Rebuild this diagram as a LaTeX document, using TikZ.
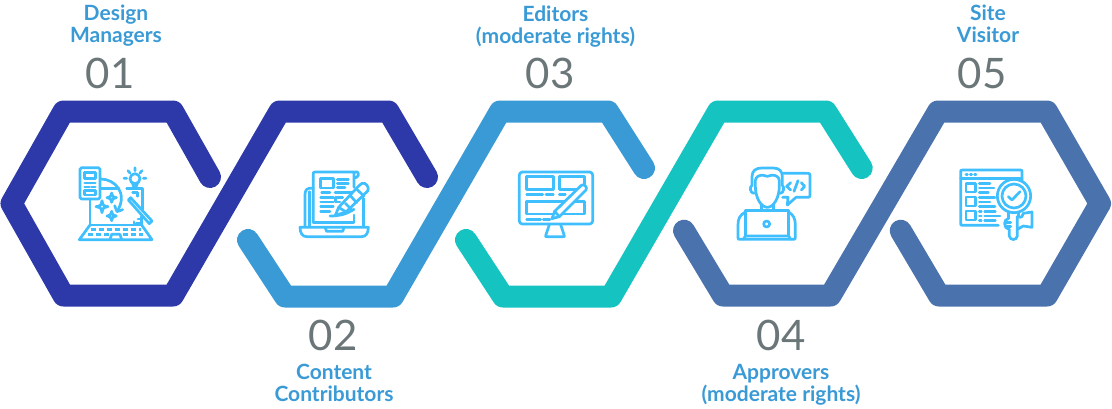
\documentclass[tikz,border=0pt]{standalone}
\usepackage{fontspec}
\setmainfont{Lato}
\definecolor{cdark}{HTML}{2D39A9}
\definecolor{cblue}{HTML}{3A9AD5}
\definecolor{cteal}{HTML}{15C3C1}
\definecolor{csteel}{HTML}{4A72AC}
\definecolor{cicon}{HTML}{40BFFF}
\definecolor{cnum}{HTML}{6B7678}
\tikzset{
  ribbon/.style={line width=22pt,line cap=round,line join=round},
  lab/.style={text=cblue,font=\fontsize{21}{22}\selectfont\bfseries,align=center,inner sep=0pt},
  num/.style={text=cnum,font=\fontsize{42}{42}\selectfont,inner sep=0pt},
  ico/.style={draw=cicon,line width=2.7pt,line cap=round,line join=round},
  icf/.style={x=.3333pt,y=-.3333pt},
}
\begin{document}
\begin{tikzpicture}[x=1pt,y=-1pt]
\useasboundingbox (0,0) rectangle (1112,408);
% ribbons
\draw[ribbon,cdark] (210,177) -- (173,111.5) -- (63.5,111.5) -- (11.5,203.5) -- (63.5,295.5) -- (173,295.5) -- (279.5,111.5) -- (388.5,111.5) -- (427,177);
\draw[ribbon,cblue] (248,240) -- (285,296.5) -- (393,296.5) -- (500,111.5) -- (608,111.5) -- (644,168);
\draw[ribbon,cteal] (466,240) -- (503,296.5) -- (611,296.5) -- (718,111.5) -- (826,111.5) -- (861.7,168);
\draw[ribbon,csteel] (684,230.7) -- (723,295.5) -- (830.5,295.5) -- (938,111.5) -- (1047,111.5) -- (1100,203.5) -- (1047,295.5) -- (939,295.5) -- (900.7,230.7);
% texts
\node[lab] (t1) at (116,26) {Design\\Managers};
\node[num] (n1) at (110,73) {01};
\node[lab] (t2) at (334,383) {Content\\Contributors};
\node[num] (n2) at (333,335) {02};
\node[lab] (t3) at (555.5,26.5) {Editors\\(moderate rights)};
\node[num] (n3) at (550,73) {03};
\node[lab] (t4) at (781,385) {Approvers\\(moderate rights)};
\node[num] (n4) at (781,335) {04};
\node[lab] (t5) at (988,24) {Site\\Visitor};
\node[num] (n5) at (982,73) {05};
% icon 1
\begin{scope}[shift={(60,155)},icf]
\draw[ico,rounded corners=1.5pt] (60,38) rectangle (120,132);
\draw[ico] (74,52) rectangle (106,70);
\draw[ico] (74,84) -- (106,84) (74,96) -- (88,96) (94,96) -- (106,96);
\draw[ico] (74,107) rectangle (106,120);
\draw[ico] (122,72) .. controls (165,72) and (205,115) .. (172,168);
\draw[ico] (164,152) -- (171,170) -- (188,164);
\draw[ico] (90,132) -- (90,210) -- (245,210) -- (245,185);
\draw[ico] (122,100) -- (176,100);
\draw[ico] (200,100) -- (248,100) -- (248,165);
\draw[ico] (90,210) -- (58,254) -- (276,254) -- (245,210);
\draw[ico,dash pattern=on 5pt off 3pt,line cap=butt] (92,224) -- (242,224) (85,238) -- (146,238) (188,238) -- (250,238);
\draw[ico] (150,254) -- (155,238) -- (180,238) -- (185,254);
\foreach \cx/\cy/\r in {155/128/14,126/155/18,155/183/14}
  \draw[ico] (\cx-\r,\cy) .. controls (\cx-3,\cy-3) .. (\cx,\cy-\r) .. controls (\cx+3,\cy-3) .. (\cx+\r,\cy) .. controls (\cx+3,\cy+3) .. (\cx,\cy+\r) .. controls (\cx-3,\cy+3) .. cycle;
\draw[ico] (205,135) -- (212,128) -- (276,198) -- (268,206) -- cycle;
\draw[ico] (225,71) circle (15);
\draw[ico] (218,86) -- (232,86) -- (227,98) -- (222,98) -- cycle;
\draw[ico] (225,38) -- (225,47) (204,47) -- (210,54) (246,47) -- (240,54) (192,70) -- (200,70) (250,70) -- (258,70);
\draw[ico] (218,112) -- (232,112) -- (232,124) (228,205) -- (240,205) (234,192) -- (240,192) (222,200) -- (222,205);
\end{scope}
% icon 2
\begin{scope}[shift={(280,150)},icf]
\draw[ico] (100,115) .. controls (78,112) and (75,122) .. (75,135) -- (75,230);
\draw[ico] (250,145) -- (250,230);
\draw[ico] (88,125) -- (88,230);
\draw[ico] (60,232) -- (265,232) .. controls (265,250) and (258,260) .. (245,260) -- (80,260) .. controls (68,260) and (60,250) .. (60,232) -- cycle;
\draw[ico] (135,232) -- (140,244) -- (188,244) -- (192,232);
\draw[ico] (100,218) -- (100,72) .. controls (100,66) .. (106,66) -- (232,66) .. controls (238,70) and (236,84) .. (222,84) (222,66) -- (222,112);
\draw[ico] (100,218) -- (222,218) -- (222,195);
\draw[ico] (122,86) rectangle (160,114);
\draw[ico] (172,88) -- (205,88) (172,100) -- (205,100) (172,112) -- (195,112);
\draw[ico] (125,128) -- (150,128) (165,128) -- (215,128) (122,142) -- (160,142) (122,156) -- (160,156) (122,170) -- (160,170) (122,184) -- (150,184);
\draw[ico] (166,142) -- (166,156) -- (180,156) (166,142) -- (188,142);
\draw[ico] (166,196) -- (176,172) -- (236,108) -- (246,100) .. controls (258,96) and (268,112) .. (264,122) -- (198,186) -- cycle;
\draw[ico] (228,116) -- (252,138);
\draw[ico] (176,172) -- (198,186) (196,160) -- (214,178) (212,138) -- (230,158);
\draw[ico] (150,198) .. controls (175,198) and (195,195) .. (222,178);
\end{scope}
% icon 3
\begin{scope}[shift={(500,150)},icf]
\draw[ico,rounded corners=3pt] (58,66) rectangle (278,222);
\draw[ico] (80,80) rectangle (160,118);
\draw[ico] (178,80) rectangle (254,118);
\draw[ico] (80,155) rectangle (254,192);
\draw[ico] (80,134) -- (128,134) (138,134) -- (160,134) (178,134) -- (196,134);
\draw[ico] (80,208) -- (122,208) (130,208) -- (150,208);
\fill[white] (156,206) -- (164,184) -- (244,106) .. controls (252,100) and (264,112) .. (258,120) -- (178,200) -- cycle;
\draw[ico] (156,206) -- (164,184) -- (244,106) .. controls (252,100) and (264,112) .. (258,120) -- (178,200) -- cycle;
\draw[ico] (164,184) -- (178,200);
\draw[ico] (148,224) -- (138,254) .. controls (136,260) .. (142,260) -- (188,260) .. controls (194,260) .. (192,254) -- (182,224);
\end{scope}
% icon 4
\begin{scope}[shift={(720,150)},icf]
\draw[ico] (102,130) .. controls (90,130) and (88,110) .. (96,106) -- (96,80) .. controls (96,62) and (108,54) .. (125,54) -- (160,54) .. controls (178,54) and (187,64) .. (187,80) -- (187,106) .. controls (194,110) and (192,130) .. (180,130);
\draw[ico] (106,108) -- (106,92) .. controls (106,80) and (120,74) .. (130,76) .. controls (138,80) and (146,80) .. (154,76) .. controls (166,74) and (178,80) .. (178,92) -- (178,108) .. controls (178,145) and (160,172) .. (142,172) .. controls (124,172) and (106,145) .. (106,108) -- cycle;
\draw[ico] (188,70) -- (258,70) .. controls (270,70) .. (270,82) -- (270,130) .. controls (270,142) .. (258,142) -- (228,142) -- (202,165) -- (204,142) -- (188,142);
\draw[ico] (212,98) -- (200,109) -- (212,120) (244,98) -- (254,109) -- (244,120) (234,92) -- (222,124);
\draw[ico] (125,165) -- (125,182) (160,165) -- (160,182);
\draw[ico] (76,182) -- (206,182);
\draw[ico] (76,182) -- (76,258) (206,182) -- (206,258);
\draw[ico] (76,186) .. controls (60,195) and (54,205) .. (54,225) -- (54,262) .. controls (54,268) .. (60,268) -- (220,268) .. controls (226,268) .. (226,262) -- (226,225) .. controls (226,205) and (220,195) .. (206,186);
\draw[ico] (70,268) -- (76,258) -- (206,258) -- (212,268);
\draw[ico] (140,222) circle (9);
\end{scope}
% icon 5
\begin{scope}[shift={(940,150)},icf]
\draw[ico] (175,226) -- (68,226) .. controls (62,226) .. (62,220) -- (62,66) .. controls (62,60) .. (68,60) -- (240,60) .. controls (246,60) .. (246,66) -- (246,92);
\draw[ico] (62,86) -- (246,86);
\draw[ico] (78,73) -- (82,73) (91,73) -- (95,73) (104,73) -- (108,73);
\draw[ico] (78,100) rectangle (106,126);
\draw[ico] (78,141) rectangle (106,168);
\draw[ico] (78,183) rectangle (106,210);
\draw[ico] (118,100) -- (150,100) (118,114) -- (162,114) (118,128) -- (145,128) (118,142) -- (165,142) (118,156) -- (150,156) (118,170) -- (165,170);
\draw[ico] (118,184) -- (124,184) (134,184) -- (166,184) (118,198) -- (124,198) (134,198) -- (180,198) (118,212) -- (124,212) (134,212) -- (166,212);
\draw[ico] (222,138) circle (50);
\draw[ico] (222,138) circle (36);
\draw[ico] (205,140) -- (216,150) -- (240,125);
\draw[ico] (205,188) -- (205,206) (235,188) -- (235,200);
\draw[ico] (205,206) .. controls (190,205) and (190,238) .. (208,238) -- (208,258) .. controls (210,272) and (230,272) .. (232,258) -- (232,200) .. controls (245,205) and (250,198) .. (250,190) -- (276,186) -- (276,232) -- (250,228) -- (232,238);
\draw[ico] (194,218) -- (212,218) (196,230) -- (212,230);
\end{scope}
\end{tikzpicture}
\end{document}
